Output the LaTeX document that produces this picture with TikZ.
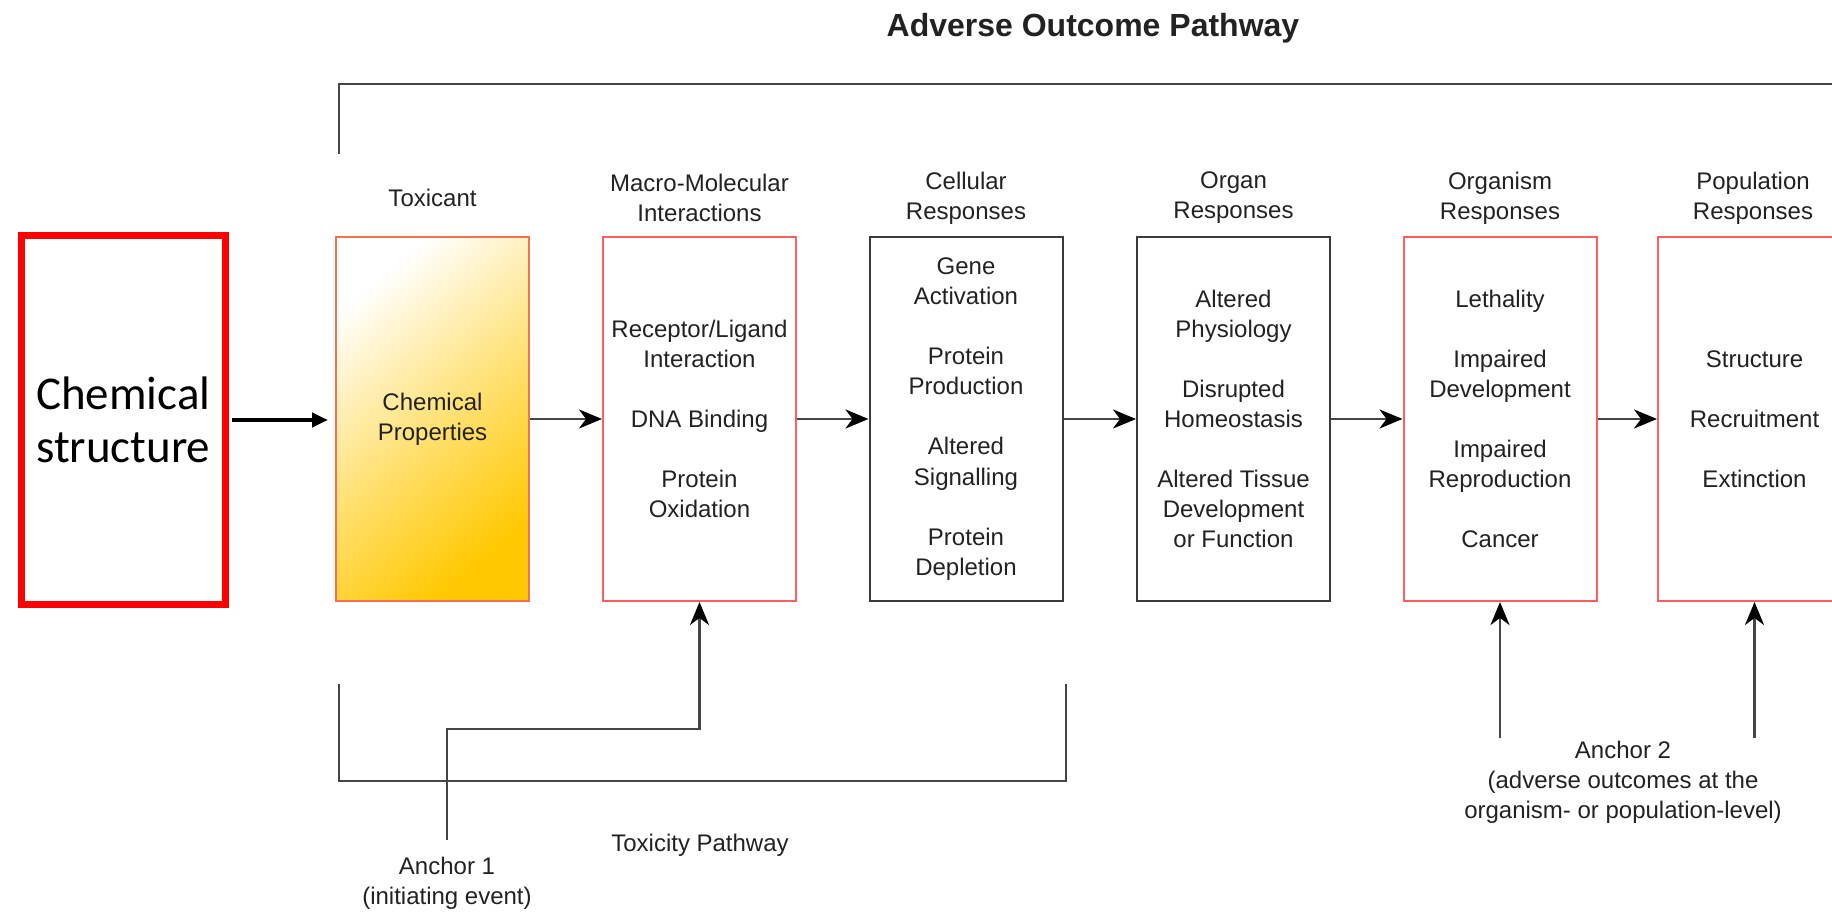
\documentclass[tikz,border=0pt]{standalone}
\usepackage{fontspec}
\setmainfont{Liberation Sans}
\newfontfamily\calibri{Carlito}
\usetikzlibrary{arrows.meta}
\definecolor{txt}{HTML}{222222}
\definecolor{boxred}{HTML}{FF5E5E}
\definecolor{toxborder}{HTML}{F5704E}
\definecolor{boxgrey}{HTML}{3A3A3A}
\definecolor{linegrey}{HTML}{454545}
\definecolor{gold}{HTML}{FFC800}
\definecolor{midgold}{HTML}{FFE27A}
\begin{document}
\begin{tikzpicture}[x=0.5pt,y=-0.5pt,
  lbl/.style={font=\fontsize{12}{15.05}\selectfont, text=txt, align=center, inner sep=0pt},
  stage/.style={draw, line width=1pt, minimum width=96.5pt, minimum height=182pt, inner sep=0pt, lbl},
  redstage/.style={stage, draw=boxred},
  greystage/.style={stage, draw=boxgrey},
  conn/.style={draw=linegrey, line width=1.2pt,
    -{Stealth[length=11.5pt,width=9.5pt,inset=3.5pt,color=black,fill=black]}},
  bracket/.style={draw=linegrey, line width=1pt}]
\useasboundingbox (0,0) rectangle (1832,913);

% title
\node[font=\bfseries\fontsize{16}{19}\selectfont, text=txt] (title) at (1093,28) {Adverse Outcome Pathway};

% input box
\node[draw=red, line width=3.5pt, minimum width=102.25pt, minimum height=184.5pt, inner sep=0pt,
      align=center, font=\calibri\fontsize{23.5}{26.5}\selectfont] (chem) at (123.25,420)
      {Chemical\\structure};

% stage boxes
\node[stage, draw=toxborder, top color=white, bottom color=gold, middle color=midgold,
      shading angle=40] (tox) at (432.5,419)
  {Chemical\\Properties};
\node[redstage] (mac) at (699.5,419)
  {Receptor/Ligand\\Interaction\\[15.05pt]DNA Binding\\[15.05pt]Protein\\Oxidation};
\node[greystage] (cel) at (966,419)
  {Gene\\Activation\\[15.05pt]Protein\\Production\\[15.05pt]Altered\\Signalling\\[15.05pt]Protein\\Depletion};
\node[greystage] (orga) at (1233.5,419)
  {Altered\\Physiology\\[15.05pt]Disrupted\\Homeostasis\\[15.05pt]Altered Tissue\\Development\\or Function};
\node[redstage] (orgm) at (1500,419)
  {Lethality\\[15.05pt]Impaired\\Development\\[15.05pt]Impaired\\Reproduction\\[15.05pt]Cancer};
\node[redstage] (pop) at (1754.5,419)
  {Structure\\[15.05pt]Recruitment\\[15.05pt]Extinction};

% column headings
\node[lbl] (htox) at (432.5,198) {Toxicant};
\node[lbl] (hmac) at (699.5,198) {Macro-Molecular\\Interactions};
\node[lbl] (hcel) at (966,198) {Cellular\\Responses};
\node[lbl] (horga) at (1233.5,198) {Organ\\Responses};
\node[lbl] (horgm) at (1500,198) {Organism\\Responses};
\node[lbl] (hpop) at (1753,198) {Population\\Responses};

% chain of arrows
\draw[line width=2.3pt, -{Triangle[length=8pt,width=7pt]}, shorten <=1.5pt, shorten >=3.5pt]
  (chem.east) -- (chem.east -| tox.west);
\draw[conn] (tox) -- (mac);
\draw[conn] (mac) -- (cel);
\draw[conn] (cel) -- (orga);
\draw[conn] (orga) -- (orgm);
\draw[conn] (orgm) -- (pop);

% brackets
\draw[bracket] (339,154) -- (339,84) -- (1832,84);
\draw[bracket] (339,684) -- (339,781) -- (1066,781) -- (1066,684);

% bottom labels
\node[lbl] (tp) at (700,845) {Toxicity Pathway};
\node[lbl] (anc1) at (447,883.5) {Anchor 1\\(initiating event)};
\node[lbl] (anc2) at (1623,782.5) {Anchor 2\\(adverse outcomes at the\\organism- or population-level)};

% anchor connectors
\coordinate (a1) at (447,840);
\coordinate (a2l) at (1500,738);
\coordinate (a2r) at (1754.5,738);
\draw[conn] (a1) -- ++(0,-111) -| (mac.south);
\draw[conn] (a2l) -- (orgm.south);
\draw[conn] (a2r) -- (pop.south);
\end{tikzpicture}
\end{document}
